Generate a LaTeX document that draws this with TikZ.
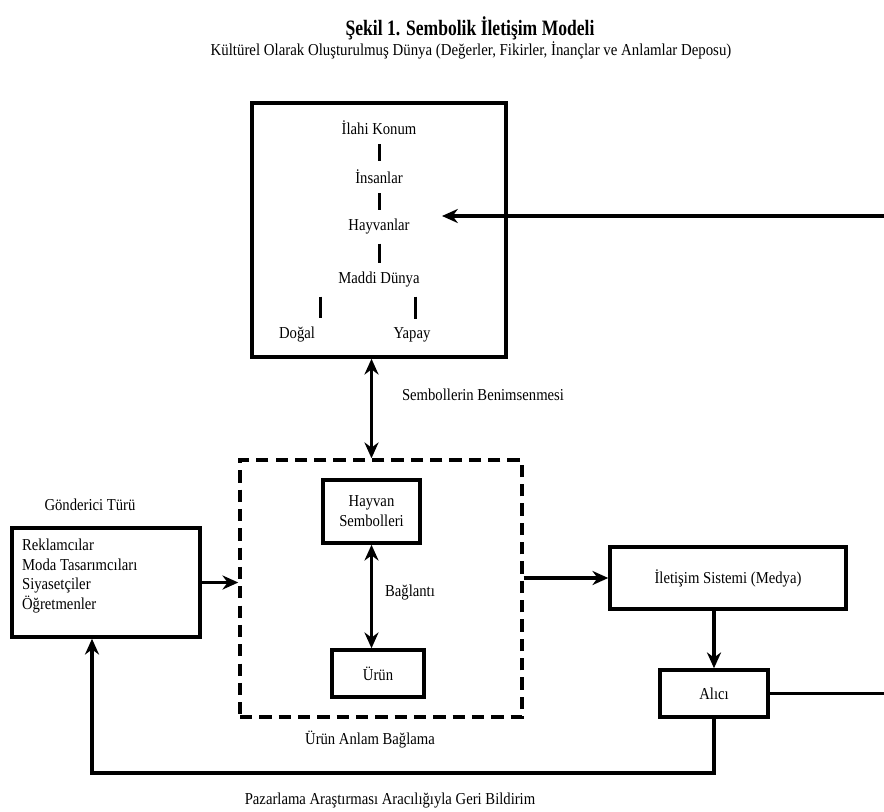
\documentclass[tikz,border=0pt]{standalone}
\usepackage{fontspec}
\setmainfont{Liberation Serif}[FakeStretch=0.88]
\newfontfamily\titlefont{Liberation Serif}[FakeStretch=0.8]
\newfontfamily\narrowfont{Liberation Serif}[FakeStretch=0.89]
\usetikzlibrary{arrows.meta}

\tikzset{
  box/.style={draw,line width=2pt,fill=white},
  frame/.style={draw,line width=2pt,dash pattern=on 7pt off 4pt},
  lbl/.style={font=\fontsize{9.5}{11.3}\selectfont,inner sep=1pt},
  tick/.style={line width=1.7pt,shorten <=4pt,shorten >=4pt},
  link/.style={line width=2pt,>={Stealth[length=9pt,width=8pt]}},
}

\begin{document}
\begin{tikzpicture}[x=0.02cm,y=-0.02cm]
\useasboundingbox (0,0) rectangle (884,811);

% Title
\node[font=\titlefont\bfseries\fontsize{12.5}{14}\selectfont] (title) at (470,28) {Şekil 1. Sembolik İletişim Modeli};
\node[font=\narrowfont\fontsize{9.5}{11}\selectfont] (subtitle) at (471,50) {Kültürel Olarak Oluşturulmuş Dünya (Değerler, Fikirler, İnançlar ve Anlamlar Deposu)};

% World box and its ladder
\node[box,minimum width=5.08cm,minimum height=5.08cm] (world) at (379,230) {};
\node[lbl] (ilahi) at (379,128) {İlahi Konum};
\node[lbl] (insan) at (379,177) {İnsanlar};
\node[lbl] (hayvan) at (379,227) {Hayvanlar};
\node[lbl] (madde) at (379,280) {Maddi Dünya};
\node[lbl] (dogal) at (297,335) {Doğal};
\node[lbl] (yapay) at (412,335) {Yapay};
\coordinate (dl) at (320,0);
\coordinate (yl) at (415,0);
\draw[tick] (ilahi) -- (insan);
\draw[tick] (insan) -- (hayvan);
\draw[tick] (hayvan) -- (madde);
\draw[tick] (madde.south -| dl) -- (dogal.north -| dl);
\draw[tick] (madde.south -| yl) -- (yapay.north -| yl);

% Meaning transfer
\node[frame,minimum width=5.64cm,minimum height=5.14cm] (meaning) at (381,588.5) {};
\node[box,lbl,align=center,minimum width=1.94cm,minimum height=1.26cm] (symbols) at (371.5,511.5) {Hayvan\\Sembolleri};
\node[box,lbl,minimum width=1.84cm,minimum height=0.94cm] (product) at (378,673.5) {Ürün};
\node[lbl] (baglanti) at (410,592) {Bağlantı};
\node[lbl] (anlam) at (370,740) {Ürün Anlam Bağlama};
\node[lbl] (benimseme) at (483,395) {Sembollerin Benimsenmesi};

% Sender
\node[lbl] (gonderici) at (90,505) {Gönderici Türü};
\node[box,minimum width=3.76cm,minimum height=2.18cm] (sender) at (106,582.5) {};
\node[lbl,align=left,anchor=west] (senders) at (20,576) {Reklamcılar\\Moda Tasarımcıları\\Siyasetçiler\\Öğretmenler};

% Medium and receiver
\node[box,lbl,minimum width=4.72cm,minimum height=1.24cm] (medium) at (728,578) {İletişim Sistemi (Medya)};
\node[box,lbl,minimum width=2.16cm,minimum height=0.94cm] (receiver) at (714,693.5) {Alıcı};
\node[lbl] (geri) at (390,800) {Pazarlama Araştırması Aracılığıyla Geri Bildirim};

% Arrows
\coordinate (rin) at (884,216);
\coordinate (rtip) at (442,216);
\coordinate (rout) at (884,692);
\draw[link,<->] (world.south -| symbols) -- (meaning.north -| symbols);
\draw[link,<->] (symbols.south) -- (symbols.south |- product.north);
\draw[link,->] (sender.east) -- (sender.east -| meaning.west);
\draw[link,->] (meaning.east |- medium.west) -- (medium.west);
\draw[link,->] (medium.south -| receiver) -- (receiver.north);
\draw[link,->] (receiver.south) -- ++(0,54) -| ([xshift=-0.28cm]sender.south);
\draw[link] (receiver.east) -- (receiver.east -| rout);
\draw[link,->] (rin) -- (rtip);

\end{tikzpicture}
\end{document}
